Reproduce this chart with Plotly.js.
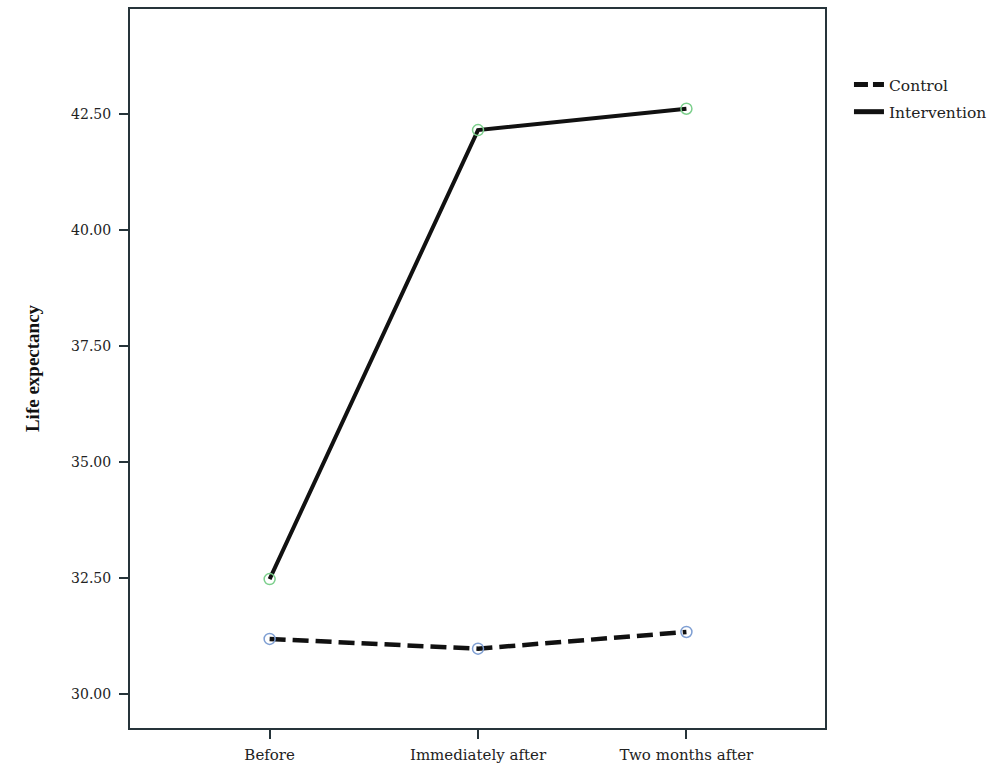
<!DOCTYPE html>
<html>
<head>
<meta charset="utf-8">
<script src="https://cdn.plot.ly/plotly-3.0.1.min.js"></script>
<style>html,body{margin:0;padding:0;background:#fff;}#chart{width:1000px;height:774px;}</style>
</head>
<body>
<div id="chart"></div>
<script>
const categories = ["Before", "Immediately after", "Two months after"];
const controlValues = [31.19, 30.98, 31.34];
const interventionValues = [32.48, 42.16, 42.62];
const seriesNames = ["Control", "Intervention"];
const yTickValues = [30, 32.5, 35, 37.5, 40, 42.5];
const yTickLabels = ["30.00", "32.50", "35.00", "37.50", "40.00", "42.50"];

const fontFam = "DejaVu Serif, Liberation Serif, serif";
const controlLine = {color: "#111", width: 4.5, dash: "16px,7px"};
const interventionLine = {color: "#111", width: 4};

const traces = [
  {
    x: categories, y: controlValues, name: seriesNames[0], type: "scatter", mode: "lines+markers",
    showlegend: false,
    line: controlLine,
    marker: {symbol: "circle-open", size: 11, color: "#7f9fd3", line: {width: 1.5, color: "#7f9fd3"}}
  },
  {
    x: categories, y: interventionValues, name: seriesNames[1], type: "scatter", mode: "lines+markers",
    showlegend: false,
    line: interventionLine,
    marker: {symbol: "circle-open", size: 11, color: "#7ccf8c", line: {width: 1.5, color: "#7ccf8c"}}
  },
  // legend-only entries (lines without markers, as in the reference legend)
  {x: [null], y: [null], name: seriesNames[0], type: "scatter", mode: "lines", line: {color: "#111", width: 5, dash: "14px,5px"}, legendgroup: "a"},
  {x: [null], y: [null], name: seriesNames[1], type: "scatter", mode: "lines", line: {color: "#111", width: 5}, legendgroup: "b"}
];

const layout = {
  width: 1000, height: 774,
  margin: {l: 130, r: 174, t: 9, b: 46},
  paper_bgcolor: "#fff", plot_bgcolor: "#fff",
  font: {family: fontFam, size: 14, color: "#222"},
  showlegend: true,
  legend: {x: 1.033, y: 0.918, xanchor: "left", yanchor: "top", itemwidth: 30, traceorder: "grouped",
           font: {family: fontFam, size: 15.5, color: "#222"}, tracegroupgap: 4, bgcolor: "rgba(0,0,0,0)"},
  xaxis: {
    type: "category", range: [-0.67, 2.665],
    showline: true, linecolor: "#26343a", linewidth: 2, mirror: true,
    ticks: "outside", ticklen: 9, tickwidth: 2, tickcolor: "#26343a",
    showgrid: false, zeroline: false, ticklabelstandoff: 3,
    tickfont: {family: fontFam, size: 15, color: "#222"}
  },
  yaxis: {
    range: [29.27, 44.77],
    tickvals: yTickValues, ticktext: yTickLabels,
    showline: true, linecolor: "#26343a", linewidth: 2, mirror: true,
    ticks: "outside", ticklen: 9, tickwidth: 2, tickcolor: "#26343a",
    showgrid: false, zeroline: false, ticklabelstandoff: 5,
    tickfont: {family: fontFam, size: 14, color: "#222"},
    title: {text: "<b>Life expectancy</b>", standoff: 26, font: {family: "Liberation Serif, serif", size: 19, color: "#111"}}
  }
};

Plotly.newPlot("chart", traces, layout, {displayModeBar: false, staticPlot: true});
</script>
</body>
</html>
